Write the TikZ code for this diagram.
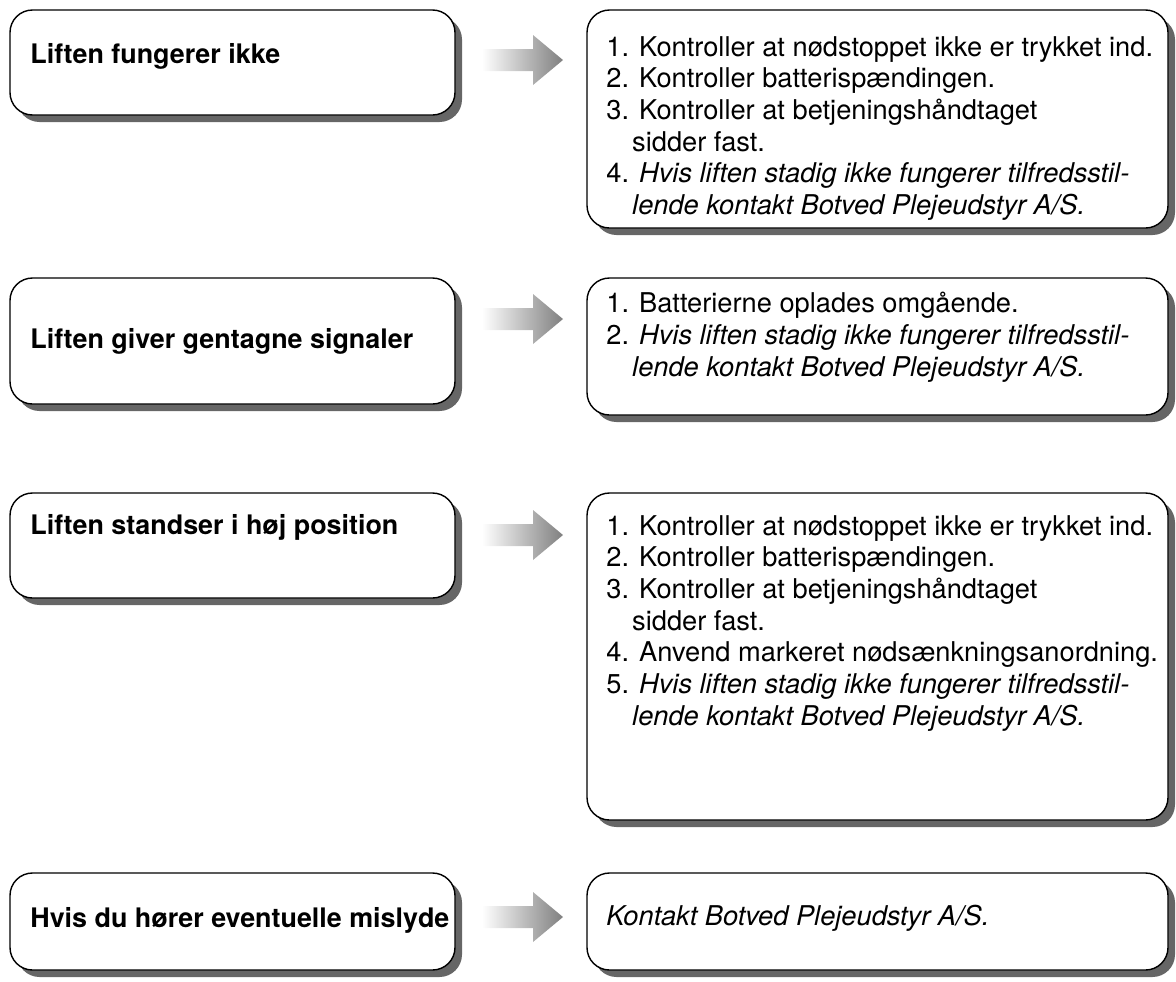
\documentclass[tikz,border=0pt]{standalone}
\usepackage{fontspec}
\setmainfont{TeX Gyre Heros}
\usetikzlibrary{shadows}

\begin{document}
\begin{tikzpicture}[
    panel/.style={draw=black,line width=0.8pt,fill=white,rounded corners=0.45cm,
      drop shadow={shadow xshift=0.14cm,shadow yshift=-0.14cm,fill=black!60,opacity=1}},
    venstre/.style={panel,minimum width=8.9cm},
    hoejre/.style={panel,minimum width=11.62cm},
    overskrift/.style={anchor=west,inner sep=0pt,font=\fontsize{15.3}{18}\selectfont\bfseries},
    punkter/.style={anchor=north west,inner sep=0pt,align=left,font=\fontsize{15.5}{18}\selectfont},
    blokpil/.style={left color=white,right color=black!50,draw=none}]

            \useasboundingbox (0,0) rectangle (23.52,-19.62);

            % Problem boxes (left)
            \node[venstre,minimum height=2.1cm] (L1) at (4.65,-1.25) {};
            \node[venstre,minimum height=2.52cm] (L2) at (4.65,-6.82) {};
            \node[venstre,minimum height=2.1cm] (L3) at (4.65,-10.91) {};
            \node[venstre,minimum height=1.94cm] (L4) at (4.65,-18.43) {};

            % Remedy boxes (right)
            \node[hoejre,minimum height=4.36cm] (R1) at (17.55,-2.38) {};
            \node[hoejre,minimum height=2.74cm] (R2) at (17.55,-6.93) {};
            \node[hoejre,minimum height=6.54cm] (R3) at (17.55,-13.13) {};
            \node[hoejre,minimum height=1.94cm] (R4) at (17.55,-18.43) {};

            % Problem texts
            \node[overskrift] (L1t) at (0.6,-1.12) {Liften fungerer ikke};
            \node[overskrift] (L2t) at (0.6,-6.82) {Liften giver gentagne signaler};
            \node[overskrift] (L3t) at (0.6,-10.54) {Liften standser i høj position};
            \node[overskrift] (L4t) at (0.6,-18.4) {Hvis du hører eventuelle mislyde};

            % Remedy texts
            \node[punkter] (R1t) at (12.12,-0.72) {1. Kontroller at nødstoppet ikke er trykket ind.\\
                2. Kontroller batterispændingen.\\
                3. Kontroller at betjeningshåndtaget\\
                \hspace*{0.95em}sidder fast.\\
                4. \textit{Hvis liften stadig ikke fungerer tilfredsstil-}\\
                \hspace*{0.95em}\textit{lende kontakt Botved Plejeudstyr A/S.}};
            \node[punkter] (R2t) at (12.12,-5.84) {1. Batterierne oplades omgående.\\
                2. \textit{Hvis liften stadig ikke fungerer tilfredsstil-}\\
                \hspace*{0.95em}\textit{lende kontakt Botved Plejeudstyr A/S.}};
            \node[punkter] (R3t) at (12.12,-10.3) {1. Kontroller at nødstoppet ikke er trykket ind.\\
                2. Kontroller batterispændingen.\\
                3. Kontroller at betjeningshåndtaget\\
                \hspace*{0.95em}sidder fast.\\
                4. Anvend markeret nødsænkningsanordning.\\
                5. \textit{Hvis liften stadig ikke fungerer tilfredsstil-}\\
                \hspace*{0.95em}\textit{lende kontakt Botved Plejeudstyr A/S.}};
            \node[punkter,anchor=west] (R4t) at (12.12,-18.36) {\textit{Kontakt Botved Plejeudstyr A/S.}};

            % Arrows between the boxes
            \coordinate (P1) at (9.64,-1.2);
            \coordinate (P2) at (9.64,-6.38);
            \coordinate (P3) at (9.64,-10.7);
            \coordinate (P4) at (9.64,-18.34);
            \foreach \p in {P1,P2,P3,P4}
                \shade[blokpil] ([yshift=0.22cm]\p) -- ++(1.02,0) -- ++(0,0.28) -- ++(0.6,-0.5)
                    -- ++(-0.6,-0.5) -- ++(0,0.28) -- ++(-1.02,0) -- cycle;

        \end{tikzpicture}
\end{document}
